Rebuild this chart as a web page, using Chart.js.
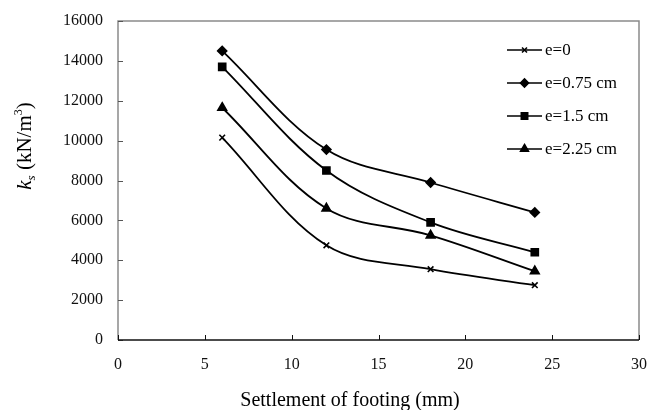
<!DOCTYPE html>
<html>
<head>
<meta charset="utf-8">
<script src="https://cdn.jsdelivr.net/npm/chart.js@4"></script>
<style>
  html, body { margin: 0; padding: 0; background: #fff; }
  #wrap { width: 647px; height: 410px; }
</style>
</head>
<body>
<div id="wrap"><canvas id="chart" width="647" height="410"></canvas></div>
<script>
const settlement = [6, 12, 18, 24]
const ks_e0 = [10150, 4750, 3550, 2750]
const ks_e075 = [14500, 9550, 7900, 6400]
const ks_e15 = [13700, 8500, 5900, 4400]
const ks_e225 = [11650, 6600, 5250, 3450]

const seriesLabels = ['e=0', 'e=0.75 cm', 'e=1.5 cm', 'e=2.25 cm']
const seriesMarks = ['crossRot', 'rectRot', 'rect', 'triangle']
const seriesSizes = [4, 4.5, 5, 5]
const xTitle = 'Settlement of footing (mm)'

const FONT = "'Liberation Serif', 'Times New Roman', serif"
const ctxEl = document.getElementById('chart')

const makeSet = (i, values) => ({
  label: seriesLabels[i],
  data: settlement.map((x, k) => ({ x: x, y: values[k] })),
  borderColor: '#000',
  backgroundColor: '#000',
  borderWidth: 1.8,
  pointStyle: seriesMarks[i],
  pointRadius: seriesSizes[i],
  pointBorderWidth: 1.6,
  tension: 0.35,
  fill: false
})

// frame around the plot plus inward tick marks
const framePlugin = {
  id: 'frame',
  beforeDatasetsDraw(chart) {
    const { ctx, chartArea: a, scales } = chart
    ctx.save()
    ctx.strokeStyle = '#8a8a8a'
    ctx.lineWidth = 1.5
    ctx.beginPath()
    ctx.moveTo(a.left, a.bottom)
    ctx.lineTo(a.left, a.top)
    ctx.lineTo(a.right, a.top)
    ctx.lineTo(a.right, a.bottom)
    ctx.stroke()

    ctx.strokeStyle = '#555'
    ctx.lineWidth = 1
    scales.y.ticks.forEach(t => {
      const y = Math.round(scales.y.getPixelForValue(t.value)) + 0.5
      ctx.beginPath()
      ctx.moveTo(a.left, y)
      ctx.lineTo(a.left + 5, y)
      ctx.stroke()
    })
    ctx.strokeStyle = '#111'
    scales.x.ticks.forEach(t => {
      const x = Math.round(scales.x.getPixelForValue(t.value)) + 0.5
      ctx.beginPath()
      ctx.moveTo(x, a.bottom)
      ctx.lineTo(x, a.bottom - 5)
      ctx.stroke()
    })

    ctx.lineWidth = 1.6
    ctx.beginPath()
    ctx.moveTo(a.left, a.bottom)
    ctx.lineTo(a.right, a.bottom)
    ctx.stroke()
    ctx.restore()
  }
}

// legend drawn inside the plot, line + marker like the original
const legendPlugin = {
  id: 'innerLegend',
  afterDraw(chart) {
    const { ctx } = chart
    ctx.save()
    ctx.font = '17px ' + FONT
    ctx.textBaseline = 'middle'
    ctx.fillStyle = '#000'
    chart.data.datasets.forEach((ds, i) => {
      const y = 50 + i * 33
      ctx.strokeStyle = '#000'
      ctx.lineWidth = 1.6
      ctx.beginPath()
      ctx.moveTo(507, y)
      ctx.lineTo(542, y)
      ctx.stroke()
      Chart.helpers.drawPoint(ctx, { pointStyle: ds.pointStyle, radius: ds.pointRadius - 0.5, borderWidth: 1.3 }, 524.5, y)
      ctx.fill()
      ctx.fillText(ds.label, 545, y + 1)
    })
    ctx.restore()
  }
}

// axis titles: y has italic k, subscript s and superscript 3
const titlesPlugin = {
  id: 'axisTitles',
  afterDraw(chart) {
    const { ctx } = chart
    ctx.save()
    ctx.fillStyle = '#000'
    ctx.font = '20px ' + FONT
    ctx.textAlign = 'center'
    ctx.textBaseline = 'middle'
    ctx.fillText(xTitle, 350, 401)

    ctx.textAlign = 'left'
    ctx.translate(24, 146)
    ctx.rotate(-Math.PI / 2)
    ctx.textBaseline = 'alphabetic'
    const parts = [
      { t: 'k', f: 'italic 21px ' + FONT, dy: 0 },
      { t: 's', f: 'italic 13px ' + FONT, dy: 4 },
      { t: ' (kN/m', f: '21px ' + FONT, dy: 0 },
      { t: '3', f: '12px ' + FONT, dy: -9 },
      { t: ')', f: '21px ' + FONT, dy: 0 }
    ]
    let total = 0
    parts.forEach(p => { ctx.font = p.f; total += ctx.measureText(p.t).width })
    let x = -total / 2
    parts.forEach(p => {
      ctx.font = p.f
      ctx.fillText(p.t, x, 7 + p.dy)
      x += ctx.measureText(p.t).width
    })
    ctx.restore()
  }
}

new Chart(ctxEl, {
  type: 'line',
  data: {
    datasets: [
      makeSet(0, ks_e0),
      makeSet(1, ks_e075),
      makeSet(2, ks_e15),
      makeSet(3, ks_e225)
    ]
  },
  options: {
    responsive: false,
    animation: false,
    layout: { padding: { top: 21, right: 8, left: 0, bottom: 0 } },
    plugins: {
      legend: { display: false },
      tooltip: { enabled: false }
    },
    scales: {
      x: {
        type: 'linear',
        min: 0,
        max: 30,
        afterFit(scale) {
          scale.height = 70
          scale.paddingLeft = 0
          scale.paddingRight = 0
        },
        ticks: { stepSize: 5, color: '#111', font: { family: FONT, size: 16 }, padding: 15, callback: v => String(v) },
        grid: { drawOnChartArea: false, drawTicks: false },
        border: { display: false }
      },
      y: {
        min: 0,
        max: 16000,
        afterFit(scale) {
          scale.width = 118
          scale.paddingTop = 0
          scale.paddingBottom = 0
        },
        ticks: { stepSize: 2000, color: '#111', font: { family: FONT, size: 16 }, padding: 15, callback: v => String(v) },
        grid: { drawOnChartArea: false, drawTicks: false },
        border: { display: false }
      }
    }
  },
  plugins: [framePlugin, legendPlugin, titlesPlugin]
})
</script>
</body>
</html>
